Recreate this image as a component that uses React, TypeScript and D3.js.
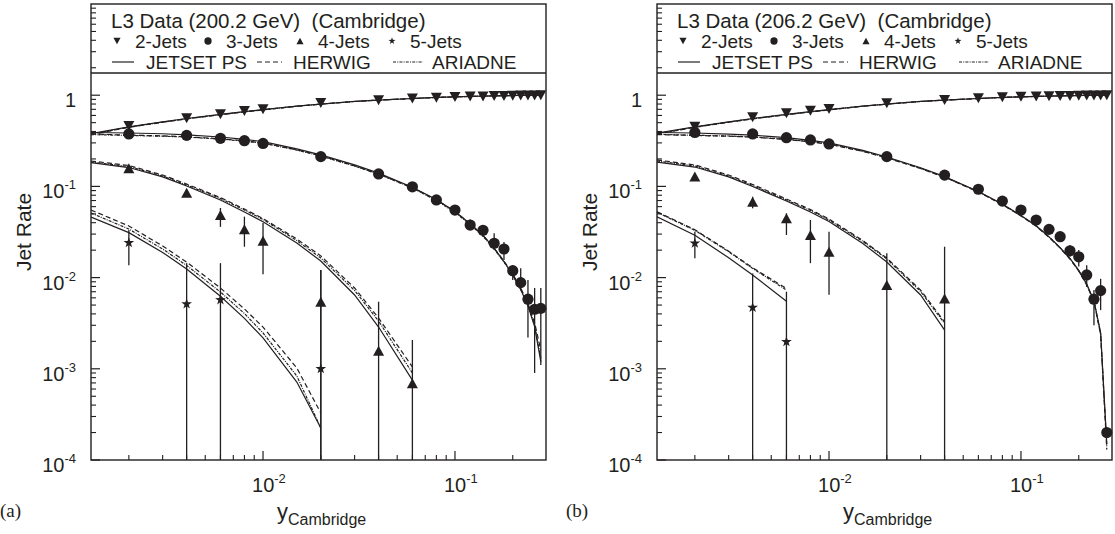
import React from 'react';
import * as d3 from 'd3';

// ---------- data ----------
const X_POINTS = [0.002, 0.004, 0.006, 0.008, 0.01, 0.02, 0.04, 0.06, 0.08, 0.1, 0.12, 0.14, 0.16, 0.18, 0.2, 0.22, 0.24, 0.26, 0.28];
const CURVE_X = [0.00127, 0.002, 0.003, 0.004, 0.006, 0.008, 0.01, 0.015, 0.02, 0.03, 0.04, 0.06, 0.08, 0.1, 0.12, 0.14, 0.16, 0.18, 0.2, 0.22, 0.24, 0.26, 0.28];
const X_4J_A = [0.002, 0.004, 0.006, 0.008, 0.01, 0.02, 0.04, 0.06];
const X_4J_B = [0.002, 0.004, 0.006, 0.008, 0.01, 0.02, 0.04];
const X_5J_A = [0.002, 0.004, 0.006, 0.02];
const X_5J_B = [0.002, 0.004, 0.006];

// panel (a) 200.2 GeV
const A_2J = [0.46, 0.56, 0.62, 0.67, 0.70, 0.82, 0.88, 0.92, 0.94, 0.955, 0.965, 0.97, 0.978, 0.982, 0.988, 0.991, 0.994, 0.995, 0.996];
const A_3J = [0.376, 0.363, 0.337, 0.317, 0.296, 0.212, 0.137, 0.099, 0.071, 0.055, 0.0377, 0.033, 0.0238, 0.0206, 0.0119, 0.0088, 0.0058, 0.0045, 0.0046];
const A_3J_LO = [null, null, null, null, null, null, null, null, null, null, 0.0343, 0.0279, 0.0201, 0.0156, 0.0094, 0.0073, 0.0022, 0.0009, 0.0011];
const A_3J_HI = [null, null, null, null, null, null, null, null, null, null, 0.0433, 0.0363, 0.0307, 0.0246, 0.0137, 0.0127, 0.0094, 0.0077, 0.0077];
const A_4J = [0.158, 0.085, 0.0486, 0.0338, 0.0254, 0.00544, 0.00158, 0.000694];
const A_4J_LO = [null, null, 0.036, 0.0218, 0.0109, 1e-6, 1e-6, 1e-6];
const A_4J_HI = [null, null, 0.058, 0.0466, 0.0397, 0.0121, 0.00544, 0.00207];
const A_5J = [0.0241, 0.00514, 0.0057, 0.001];
const A_5J_LO = [0.0137, 1e-6, 1e-6, 1e-6];
const A_5J_HI = [0.0333, 0.0144, 0.0144, 0.0121];

const A_JET_2J = [0.38, 0.45, 0.51, 0.555, 0.615, 0.66, 0.695, 0.76, 0.80, 0.855, 0.885, 0.92, 0.945, 0.96, 0.97, 0.978, 0.984, 0.988, 0.992, 0.995, 0.997, 0.998, 0.999];
const A_HER_2J = [0.37, 0.445, 0.505, 0.55, 0.61, 0.655, 0.69, 0.757, 0.798, 0.853, 0.884, 0.919, 0.944, 0.959, 0.969, 0.977, 0.983, 0.987, 0.991, 0.994, 0.996, 0.998, 0.999];
const A_ARI_2J = [0.372, 0.447, 0.507, 0.552, 0.612, 0.657, 0.692, 0.758, 0.799, 0.854, 0.885, 0.92, 0.945, 0.96, 0.97, 0.978, 0.984, 0.988, 0.992, 0.995, 0.997, 0.998, 0.999];
const A_JET_3J = [0.39, 0.385, 0.378, 0.368, 0.348, 0.328, 0.31, 0.258, 0.222, 0.172, 0.14, 0.098, 0.072, 0.053, 0.039, 0.029, 0.021, 0.015, 0.0107, 0.0074, 0.0049, 0.0029, 0.0012];
const A_HER_3J = [0.375, 0.365, 0.358, 0.35, 0.333, 0.316, 0.3, 0.252, 0.217, 0.168, 0.137, 0.097, 0.071, 0.053, 0.039, 0.029, 0.021, 0.0152, 0.0109, 0.0077, 0.0052, 0.0032, 0.0016];
const A_ARI_3J = [0.37, 0.362, 0.355, 0.347, 0.33, 0.314, 0.298, 0.25, 0.215, 0.167, 0.136, 0.096, 0.07, 0.052, 0.038, 0.0285, 0.0205, 0.0148, 0.0106, 0.0074, 0.005, 0.003, 0.0013];
const A_JET_4J = [0.182, 0.161, 0.127, 0.101, 0.0709, 0.0524, 0.041, 0.0239, 0.0152, 0.00645, 0.00287, 0.00075];
const A_HER_4J = [0.19, 0.1695, 0.1334, 0.1061, 0.0755, 0.0565, 0.0444, 0.0265, 0.0173, 0.0077, 0.0036, 0.00105];
const A_ARI_4J = [0.185, 0.165, 0.13, 0.1035, 0.0737, 0.0551, 0.0434, 0.0255, 0.0164, 0.00722, 0.00334, 0.0009];
const A_JET_5J = [0.0462, 0.0311, 0.0189, 0.0124, 0.00624, 0.00357, 0.00218, 0.000715, 0.000224];
const A_HER_5J = [0.0551, 0.0368, 0.0222, 0.0148, 0.00769, 0.00453, 0.00287, 0.00102, 0.000328];
const A_ARI_5J = [0.0511, 0.0341, 0.0206, 0.0136, 0.00695, 0.00404, 0.00247, 0.000834, 0.000224];

// panel (b) 206.2 GeV
const B_2J = [0.452, 0.573, 0.633, 0.676, 0.706, 0.815, 0.885, 0.925, 0.95, 0.96, 0.965, 0.972, 0.978, 0.982, 0.986, 0.99, 0.993, 0.995, 0.997];
const B_3J = [0.39, 0.376, 0.342, 0.323, 0.292, 0.212, 0.133, 0.093, 0.069, 0.055, 0.0428, 0.0338, 0.0281, 0.0197, 0.0169, 0.0107, 0.0058, 0.0072, 0.0002];
const B_3J_LO = [null, null, null, null, null, null, null, null, null, null, null, null, 0.025, 0.0169, 0.0132, 0.0079, 0.003, 0.0044, null];
const B_3J_HI = [null, null, null, null, null, null, null, null, null, null, null, null, 0.031, 0.0228, 0.0201, 0.0137, 0.0073, 0.0097, null];
const B_4J = [0.128, 0.068, 0.0447, 0.0293, 0.0192, 0.0083, 0.0059];
const B_4J_LO = [null, 0.0575, 0.0293, 0.0144, 0.0065, 1e-6, 1e-6];
const B_4J_HI = [null, 0.077, 0.0507, 0.0428, 0.0319, 0.0185, 0.0218];
const B_5J = [0.0238, 0.0047, 0.00198];
const B_5J_LO = [0.0163, 1e-6, 1e-6];
const B_5J_HI = [0.0319, 0.0111, 0.007];

const B_JET_2J = [0.385, 0.45, 0.51, 0.555, 0.615, 0.66, 0.695, 0.76, 0.80, 0.855, 0.885, 0.92, 0.945, 0.96, 0.97, 0.978, 0.984, 0.988, 0.992, 0.995, 0.997, 0.998, 0.999];
const B_HER_2J = [0.375, 0.445, 0.505, 0.55, 0.61, 0.655, 0.69, 0.757, 0.798, 0.853, 0.884, 0.919, 0.944, 0.959, 0.969, 0.977, 0.983, 0.987, 0.991, 0.994, 0.996, 0.998, 0.999];
const B_ARI_2J = [0.377, 0.447, 0.507, 0.552, 0.612, 0.657, 0.692, 0.758, 0.799, 0.854, 0.885, 0.92, 0.945, 0.96, 0.97, 0.978, 0.984, 0.988, 0.992, 0.995, 0.997, 0.998, 0.999];
const B_JET_3J = [0.39, 0.385, 0.375, 0.365, 0.342, 0.32, 0.3, 0.248, 0.21, 0.16, 0.128, 0.088, 0.064, 0.048, 0.037, 0.028, 0.0213, 0.0162, 0.012, 0.0085, 0.0056, 0.0025, 0.00015];
const B_HER_3J = [0.37, 0.362, 0.355, 0.347, 0.327, 0.308, 0.29, 0.242, 0.205, 0.157, 0.126, 0.087, 0.063, 0.0475, 0.0365, 0.0277, 0.021, 0.016, 0.0118, 0.0083, 0.0054, 0.0024, 0.00013];
const B_ARI_3J = [0.372, 0.364, 0.357, 0.349, 0.329, 0.31, 0.292, 0.244, 0.207, 0.158, 0.127, 0.0875, 0.0635, 0.0478, 0.0368, 0.028, 0.0212, 0.0161, 0.0119, 0.0084, 0.0055, 0.0024, 0.00014];
const B_JET_4J = [0.185, 0.163, 0.127, 0.0998, 0.0692, 0.0524, 0.0412, 0.0237, 0.0148, 0.00645, 0.00266];
const B_HER_4J = [0.195, 0.172, 0.1334, 0.105, 0.0728, 0.0558, 0.0439, 0.0255, 0.0164, 0.0073, 0.00326];
const B_ARI_4J = [0.19, 0.1675, 0.13, 0.1023, 0.0709, 0.0544, 0.0428, 0.0249, 0.016, 0.00704, 0.00314];
const B_JET_5J = [0.0465, 0.0292, 0.0165, 0.0107, 0.0055];
const B_HER_5J = [0.0527, 0.0335, 0.0195, 0.0128, 0.0076];
const B_ARI_5J = [0.052, 0.033, 0.0192, 0.0126, 0.0073];

const Y_MAJOR = [1e-4, 1e-3, 1e-2, 1e-1, 1];
const Y_LABELS = [['10', '-4'], ['10', '-3'], ['10', '-2'], ['10', '-1'], ['1', '']];
const X_MAJOR = [0.01, 0.1];
const X_LABELS = [['10', '-2'], ['10', '-1']];
const JET_NAMES = ['2-Jets', '3-Jets', '4-Jets', '5-Jets'];
const MODEL_NAMES = ['JETSET PS', 'HERWIG', 'ARIADNE'];

// ---------- layout ----------
const W = 1115, H = 534;
const L = 91, R = 546, TOP = 4, SEP = 73, BOT = 460;
const INK = '#231f20';
const FONT = '"Liberation Sans", Arial, Helvetica, sans-serif';

const STYLES = {
  JETSET: { dash: 'none' },
  HERWIG: { dash: '5 3' },
  ARIADNE: { dash: '3 1.2 1 1.2' },
};

function starPath(R0: number, r0: number) {
  const pts: string[] = [];
  for (let i = 0; i < 10; i++) {
    const a = -Math.PI / 2 + (i * Math.PI) / 5;
    const rr = i % 2 === 0 ? R0 : r0;
    pts.push(`${(rr * Math.cos(a)).toFixed(2)},${(rr * Math.sin(a)).toFixed(2)}`);
  }
  return 'M' + pts.join('L') + 'Z';
}

function Marker({ kind, cx, cy, s = 1 }: { kind: string; cx: number; cy: number; s?: number }) {
  if (kind === 'down') {
    const w = 5.5 * s, h = 5 * s;
    return <path d={`M${cx - w},${cy - h}L${cx + w},${cy - h}L${cx},${cy + h}Z`} fill={INK} />;
  }
  if (kind === 'up') {
    const w = 5.5 * s, h = 5 * s;
    return <path d={`M${cx - w},${cy + h}L${cx + w},${cy + h}L${cx},${cy - h}Z`} fill={INK} />;
  }
  if (kind === 'circle') return <circle cx={cx} cy={cy} r={5.6 * s} fill={INK} />;
  return <path d={starPath(5.6 * s, 2.2 * s)} transform={`translate(${cx},${cy})`} fill={INK} />;
}

type PanelProps = {
  dx: number;
  energy: string;
  tag: string;
  id: string;
  d2: number[]; d3v: number[]; d3lo: (number | null)[]; d3hi: (number | null)[];
  x4: number[]; d4: number[]; d4lo: (number | null)[]; d4hi: (number | null)[];
  x5: number[]; d5: number[]; d5lo: (number | null)[]; d5hi: (number | null)[];
  curves: { model: 'JETSET' | 'HERWIG' | 'ARIADNE'; vals: number[] }[];
};

function Panel(p: PanelProps) {
  const x = d3.scaleLog().domain([0.00127, 0.298]).range([L + p.dx, R + p.dx]);
  const y = d3.scaleLog().domain([1e-4, 10]).range([BOT, TOP]);
  const line = d3.line<[number, number]>().x((d) => x(d[0])).y((d) => y(d[1]));
  const left = L + p.dx, right = R + p.dx;

  const yMinor: number[] = [];
  for (let k = -4; k <= 0; k++) for (let m = 2; m <= 9; m++) yMinor.push(m * Math.pow(10, k));
  const xMinor: number[] = [];
  for (let k = -3; k <= -1; k++) for (let m = 2; m <= 9; m++) {
    const v = m * Math.pow(10, k);
    if (v > 0.00127 && v < 0.298) xMinor.push(v);
  }

  const series = [
    { xs: X_POINTS, ys: p.d2, lo: [] as (number | null)[], hi: [] as (number | null)[], kind: 'down' },
    { xs: X_POINTS, ys: p.d3v, lo: p.d3lo, hi: p.d3hi, kind: 'circle' },
    { xs: p.x4, ys: p.d4, lo: p.d4lo, hi: p.d4hi, kind: 'up' },
    { xs: p.x5, ys: p.d5, lo: p.d5lo, hi: p.d5hi, kind: 'star' },
  ];

  const clipId = `clip-${p.id}`;
  const legTextX = [44, 135, 227, 319];
  const legKinds = ['down', 'circle', 'up', 'star'];
  return (
    <g>
      <defs>
        <clipPath id={clipId}>
          <rect x={left} y={SEP} width={right - left} height={BOT - SEP} />
        </clipPath>
      </defs>
      <g clipPath={`url(#${clipId})`}>
        {p.curves.map((c, i) => (
          <path
            key={i}
            d={line(c.vals.map((v, j) => [CURVE_X[j], v] as [number, number])) || ''}
            fill="none"
            stroke={INK}
            strokeWidth={1.2}
            strokeDasharray={STYLES[c.model].dash}
          />
        ))}
        {series.map((s, si) =>
          s.xs.map((xv, j) =>
            s.lo[j] != null && s.hi[j] != null ? (
              <line key={`e${si}-${j}`} x1={x(xv)} x2={x(xv)} y1={y(s.hi[j] as number)} y2={Math.min(BOT + 2, y(s.lo[j] as number))} stroke={INK} strokeWidth={1.3} />
            ) : null
          )
        )}
      </g>
      {series.map((s, si) =>
        s.xs.map((xv, j) => <Marker key={`m${si}-${j}`} kind={s.kind} cx={x(xv)} cy={y(s.ys[j])} />)
      )}
      <rect x={left} y={TOP} width={right - left} height={BOT - TOP} fill="none" stroke={INK} strokeWidth={1.4} />
      <line x1={left} x2={right} y1={SEP} y2={SEP} stroke={INK} strokeWidth={1.4} />
      {Y_MAJOR.map((v) => (
        <line key={`ym${v}`} x1={left} x2={left + 9} y1={y(v)} y2={y(v)} stroke={INK} strokeWidth={1.2} />
      ))}
      {yMinor.map((v) => (
        <line key={`yn${v}`} x1={left} x2={left + 5} y1={y(v)} y2={y(v)} stroke={INK} strokeWidth={1.1} />
      ))}
      {Y_MAJOR.map((v, i) => (
        <text key={`yl${v}`} x={left - 15} y={y(v) + 12} textAnchor="end" fontFamily={FONT} fontSize={20} fill={INK}>
          {Y_LABELS[i][0]}
          {Y_LABELS[i][1] ? <tspan dy={-9} fontSize={13}>{Y_LABELS[i][1]}</tspan> : null}
        </text>
      ))}
      {X_MAJOR.map((v) => (
        <line key={`xm${v}`} x1={x(v)} x2={x(v)} y1={BOT} y2={BOT - 9} stroke={INK} strokeWidth={1.2} />
      ))}
      {xMinor.map((v) => (
        <line key={`xn${v}`} x1={x(v)} x2={x(v)} y1={BOT} y2={BOT - 5} stroke={INK} strokeWidth={1.1} />
      ))}
      {X_MAJOR.map((v, i) => (
        <text key={`xl${v}`} x={x(v) - 11} y={BOT + 32} fontFamily={FONT} fontSize={20} fill={INK}>
          {X_LABELS[i][0]}
          <tspan dy={-9} fontSize={13}>{X_LABELS[i][1]}</tspan>
        </text>
      ))}
      <text x={left + 186} y={519} fontFamily={FONT} fontSize={22} fill={INK}>
        y<tspan dy={6} fontSize={16}>Cambridge</tspan>
      </text>
      <text transform={`translate(${left - 60},232) rotate(-90)`} textAnchor="middle" fontFamily={FONT} fontSize={21} fill={INK}>
        Jet Rate
      </text>
      <text x={p.dx} y={517} fontFamily='"Liberation Serif", "Times New Roman", serif' fontSize={19} fill={INK}>
        {p.tag}
      </text>
      <text x={left + 20} y={28} fontFamily={FONT} fontSize={20.5} fill={INK} style={{ whiteSpace: 'pre' }}>
        {`L3 Data (${p.energy} GeV)  (Cambridge)`}
      </text>
      {JET_NAMES.map((name, i) => (
        <g key={name}>
          <Marker kind={legKinds[i]} cx={left + legTextX[i] - 18} cy={41} s={0.65} />
          <text x={left + legTextX[i]} y={48} fontFamily={FONT} fontSize={19} fill={INK}>{name}</text>
        </g>
      ))}
      <line x1={left + 21} x2={left + 43} y1={62} y2={62} stroke={INK} strokeWidth={1.2} />
      <text x={left + 55} y={69} fontFamily={FONT} fontSize={19} fill={INK}>{MODEL_NAMES[0]}</text>
      <line x1={left + 166} x2={left + 191} y1={62} y2={62} stroke={INK} strokeWidth={1.2} strokeDasharray={STYLES.HERWIG.dash} />
      <text x={left + 202} y={69} fontFamily={FONT} fontSize={19} fill={INK}>{MODEL_NAMES[1]}</text>
      <line x1={left + 302} x2={left + 332} y1={62} y2={62} stroke={INK} strokeWidth={1.2} strokeDasharray={STYLES.ARIADNE.dash} />
      <text x={left + 341} y={69} fontFamily={FONT} fontSize={19} fill={INK}>{MODEL_NAMES[2]}</text>
    </g>
  );
}

export default function App() {
  const curvesA = [
    { model: 'JETSET' as const, vals: A_JET_2J }, { model: 'HERWIG' as const, vals: A_HER_2J }, { model: 'ARIADNE' as const, vals: A_ARI_2J },
    { model: 'JETSET' as const, vals: A_JET_3J }, { model: 'HERWIG' as const, vals: A_HER_3J }, { model: 'ARIADNE' as const, vals: A_ARI_3J },
    { model: 'JETSET' as const, vals: A_JET_4J }, { model: 'HERWIG' as const, vals: A_HER_4J }, { model: 'ARIADNE' as const, vals: A_ARI_4J },
    { model: 'JETSET' as const, vals: A_JET_5J }, { model: 'HERWIG' as const, vals: A_HER_5J }, { model: 'ARIADNE' as const, vals: A_ARI_5J },
  ];
  const curvesB = [
    { model: 'JETSET' as const, vals: B_JET_2J }, { model: 'HERWIG' as const, vals: B_HER_2J }, { model: 'ARIADNE' as const, vals: B_ARI_2J },
    { model: 'JETSET' as const, vals: B_JET_3J }, { model: 'HERWIG' as const, vals: B_HER_3J }, { model: 'ARIADNE' as const, vals: B_ARI_3J },
    { model: 'JETSET' as const, vals: B_JET_4J }, { model: 'HERWIG' as const, vals: B_HER_4J }, { model: 'ARIADNE' as const, vals: B_ARI_4J },
    { model: 'JETSET' as const, vals: B_JET_5J }, { model: 'HERWIG' as const, vals: B_HER_5J }, { model: 'ARIADNE' as const, vals: B_ARI_5J },
  ];
  return (
    <svg width={W} height={H} viewBox={`0 0 ${W} ${H}`} style={{ position: 'absolute', left: 0, top: 0, background: '#fff' }}>
      <rect width={W} height={H} fill="#fff" />
      <Panel dx={0} id="a" energy="200.2" tag="(a)"
        d2={A_2J} d3v={A_3J} d3lo={A_3J_LO} d3hi={A_3J_HI}
        x4={X_4J_A} d4={A_4J} d4lo={A_4J_LO} d4hi={A_4J_HI}
        x5={X_5J_A} d5={A_5J} d5lo={A_5J_LO} d5hi={A_5J_HI}
        curves={curvesA} />
      <Panel dx={566} id="b" energy="206.2" tag="(b)"
        d2={B_2J} d3v={B_3J} d3lo={B_3J_LO} d3hi={B_3J_HI}
        x4={X_4J_B} d4={B_4J} d4lo={B_4J_LO} d4hi={B_4J_HI}
        x5={X_5J_B} d5={B_5J} d5lo={B_5J_LO} d5hi={B_5J_HI}
        curves={curvesB} />
    </svg>
  );
}
